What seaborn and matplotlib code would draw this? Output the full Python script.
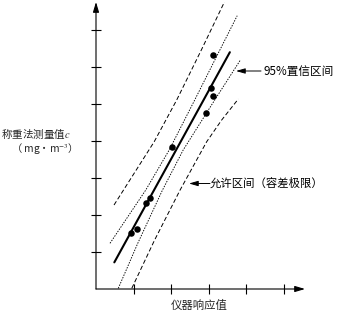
import matplotlib
matplotlib.use("Agg")
import matplotlib.pyplot as plt
import seaborn as sns
import pandas as pd

# ---- data ----
point_x = [0.92, 1.10, 1.33, 1.44, 2.02, 2.93, 3.10, 3.06, 3.10]
point_y = [1.52, 1.63, 2.32, 2.47, 3.85, 4.77, 5.22, 5.44, 6.32]

fit_x = [0.487, 3.56]
fit_y = [0.72, 6.40]

conf_upper_x = [0.372, 1.324, 1.947, 2.625, 3.160, 3.755]
conf_upper_y = [1.235, 2.676, 3.757, 5.108, 6.189, 7.386]
conf_lower_x = [0.593, 1.114, 1.769, 2.319, 3.157, 3.840]
conf_lower_y = [0.019, 1.243, 2.676, 3.757, 5.108, 6.189]

tol_upper_x = [0.479, 1.548, 2.146, 2.801, 3.428]
tol_upper_y = [2.270, 3.981, 5.108, 6.459, 7.784]
tol_lower_x = [0.952, 1.559, 2.237, 2.944, 3.343, 3.785]
tol_lower_y = [0.019, 1.324, 2.676, 3.981, 4.568, 5.135]

x_ticks = [1, 2, 3, 4, 5]
y_ticks = [1, 2, 3, 4, 5, 6, 7]

x_label = "仪器响应值"
y_label_1 = "称重法测量值$c$"
y_label_2 = "（ mg・m$^{-3}$）"
note_conf = "95%置信区间"
note_tol = "允许区间（容差极限）"

sns.set_theme(style="white")
plt.rcParams["font.family"] = ["Noto Sans CJK SC", "DejaVu Sans"]
plt.rcParams["mathtext.fontset"] = "stix"

W, H = 342, 312
fig = plt.figure(figsize=(W / 100, H / 100), dpi=100)
x0, y0, x1, y1 = 96, 289, 305, 2
ax = fig.add_axes([x0 / W, 1 - y0 / H, (x1 - x0) / W, (y0 - y1) / H])
ax.set_xlim(0, (x1 - x0) / 37.6)
ax.set_ylim(0, (y0 - y1) / 37.0)

pts = pd.DataFrame({"x": point_x, "y": point_y})
sns.lineplot(x=fit_x, y=fit_y, ax=ax, color="black", lw=1.5, sort=False)
for bx, by in [(conf_upper_x, conf_upper_y), (conf_lower_x, conf_lower_y)]:
    sns.lineplot(x=bx, y=by, ax=ax, color="black", lw=0.65, sort=False,
                 dashes=False, linestyle=(0, (1.6, 1.4)))
for bx, by in [(tol_upper_x, tol_upper_y), (tol_lower_x, tol_lower_y)]:
    sns.lineplot(x=bx, y=by, ax=ax, color="black", lw=0.7, sort=False,
                 dashes=False, linestyle=(0, (4.5, 2.5)))
sns.scatterplot(data=pts, x="x", y="y", ax=ax, color="black", s=22,
                edgecolor="black", linewidth=0, zorder=5)

for s in ax.spines.values():
    s.set_visible(False)
ax.set_xticks(x_ticks)
ax.set_yticks(y_ticks)
ax.set_xticklabels([])
ax.set_yticklabels([])
ax.tick_params(axis="both", direction="inout", length=7, width=0.8,
               color="black", bottom=True, left=True)
ax.set_xlabel("")
ax.set_ylabel("")

arrow_kw = dict(arrowstyle="-|>,head_length=0.5,head_width=0.15", color="black",
                lw=0.8, shrinkA=0, shrinkB=0)
ax.annotate("", xy=(0, 1), xytext=(0, 0), xycoords="axes fraction",
            textcoords="axes fraction", arrowprops=arrow_kw, annotation_clip=False)
ax.annotate("", xy=(1, 0), xytext=(0, 0), xycoords="axes fraction",
            textcoords="axes fraction", arrowprops=arrow_kw, annotation_clip=False)

def px2d(px, py):
    return ((px - x0) / 37.6, (y0 - py) / 37.0)

small_arrow = dict(arrowstyle="-|>,head_length=0.45,head_width=0.13", color="black",
                   lw=0.7, shrinkA=0, shrinkB=0)
ax.annotate("", xy=px2d(236, 71), xytext=px2d(261, 71), arrowprops=small_arrow,
            annotation_clip=False)
ax.text(*px2d(264, 71), note_conf, ha="left", va="center", fontsize=8.4,
        color="black", clip_on=False)
ax.annotate("", xy=px2d(189, 183.5), xytext=px2d(210, 183.5), arrowprops=small_arrow,
            annotation_clip=False)
ax.text(*px2d(210, 183.5), note_tol, ha="left", va="center", fontsize=8.2,
        color="black", clip_on=False)

fig.text(199 / W, 1 - 305 / H, x_label, ha="center", va="center", fontsize=8.2)
fig.text(1 / W, 1 - 134 / H, y_label_1, ha="left", va="center", fontsize=7.6)
fig.text(41.5 / W, 1 - 148.5 / H, y_label_2, ha="center", va="center", fontsize=7.4)

fig.savefig("out.png", dpi=100)
